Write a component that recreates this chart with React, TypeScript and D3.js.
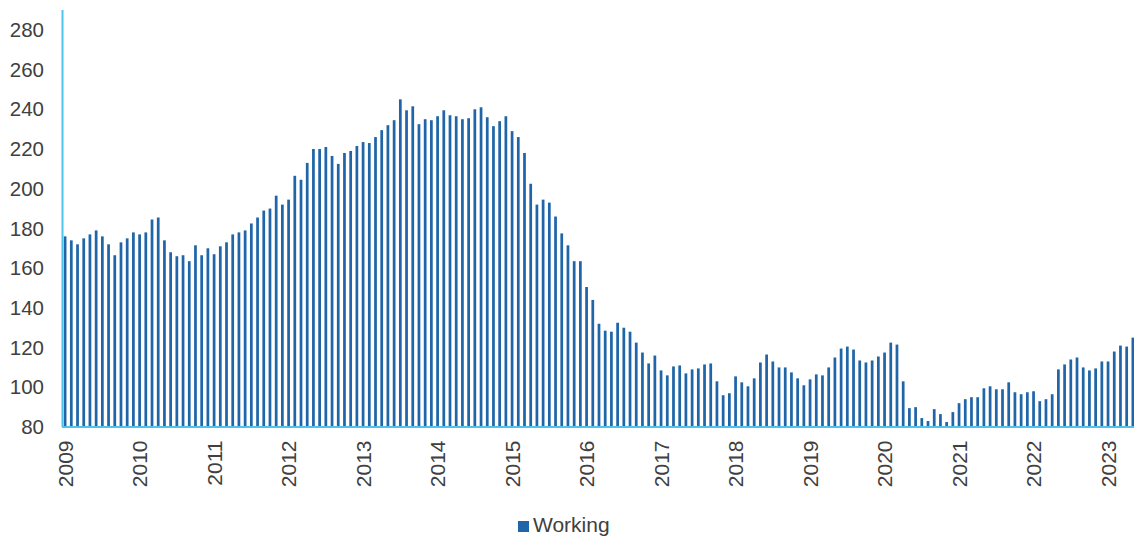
import React from 'react';
import * as d3 from 'd3';

// monthly values, Jan 2009 .. May 2023
const y2009 = [176, 174, 172, 175, 177, 179, 176, 172, 166.5, 173, 175, 178];
const y2010 = [177, 178, 184.5, 185.5, 174, 168, 166, 166.5, 163.5, 171.5, 166.5, 170];
const y2011 = [167, 171, 173, 177, 178, 179, 182.5, 185.5, 189, 190, 196.5, 192];
const y2012 = [194.5, 206.5, 204.5, 213, 220, 220, 221, 216.5, 212.5, 218, 219, 221.5];
const y2013 = [223.5, 223, 226, 229.5, 232, 234.5, 245, 239.5, 241.5, 232.5, 235, 234.5];
const y2014 = [236.5, 239.5, 237, 236.5, 235, 235.5, 240, 241, 236, 231.5, 234, 236.5];
const y2015 = [229, 226, 218, 202.5, 192, 194.5, 193, 186, 177.5, 171.5, 163.5, 163.5];
const y2016 = [150.5, 144, 132, 128.5, 128, 132.5, 130, 128, 122.5, 117.5, 112, 116];
const y2017 = [108.5, 106, 110.5, 111, 107, 109, 109.5, 111.5, 112, 103, 96, 97];
const y2018 = [105.5, 102.5, 100.5, 104.5, 112.5, 116.5, 113, 110, 110, 107.5, 104.5, 101];
const y2019 = [104, 106.5, 106, 110, 115, 119.5, 120.5, 119, 113.5, 112.5, 113.5, 115.5];
const y2020 = [117.5, 122.5, 121.5, 103, 89.5, 90, 84.5, 83, 89, 86.5, 82.5, 87.5];
const y2021 = [92, 94, 95, 95, 99.5, 100.5, 99, 99, 102.5, 97.5, 96.5, 97.5];
const y2022 = [98, 93, 94, 96.5, 109, 111.5, 114, 115, 110, 108.5, 109.5, 113];
const y2023 = [113, 118, 121, 120.5, 125];

const years = ['2009', '2010', '2011', '2012', '2013', '2014', '2015', '2016',
  '2017', '2018', '2019', '2020', '2021', '2022', '2023'];
const yTicks = [80, 100, 120, 140, 160, 180, 200, 220, 240, 260, 280];
const seriesName = 'Working';

const working = [
  ...y2009, ...y2010, ...y2011, ...y2012, ...y2013, ...y2014, ...y2015, ...y2016,
  ...y2017, ...y2018, ...y2019, ...y2020, ...y2021, ...y2022, ...y2023,
];
// category keys "2009-01" etc.
const months = working.map((_, i) => `${years[Math.floor(i / 12)]}-${String((i % 12) + 1).padStart(2, '0')}`);

const W = 1134;
const H = 537;
const left = 62;
const step = 6.208;
const bottom = 427;
const top = 10;

const barColor = '#1f65a8';
const axisColor = '#4fc3ee';
const textColor = '#404040';

const App = () => {
  const x = d3
    .scaleBand<string>()
    .domain(months)
    .range([left, left + step * months.length])
    .paddingInner(0.56)
    .paddingOuter(0.28);

  const y = d3.scaleLinear().domain([80, 290]).range([bottom, top]);

  const xCenter = (k: string) => (x(k) ?? 0) + x.bandwidth() / 2;

  return (
    <svg
      width={W}
      height={H}
      style={{ position: 'absolute', left: 0, top: 0 }}
      fontFamily="'Liberation Sans', Arial, sans-serif"
    >
      {/* bars */}
      <g>
        {working.map((v, i) => (
          <rect
            key={months[i]}
            x={x(months[i])}
            y={y(v)}
            width={x.bandwidth()}
            height={y(80) - y(v)}
            fill={barColor}
          />
        ))}
      </g>

      {/* axes */}
      <line x1={left + 0.5} x2={left + 0.5} y1={top} y2={bottom} stroke={axisColor} strokeWidth={2} />
      <line x1={left} x2={W} y1={bottom} y2={bottom} stroke={axisColor} strokeWidth={2} />

      {/* y tick labels */}
      <g fill={textColor} fontSize={20.5} textAnchor="end">
        {yTicks.map(t => (
          <text key={t} x={44} y={y(t)} dy="0.35em">
            {t}
          </text>
        ))}
      </g>

      {/* x tick labels, one per January */}
      <g fill={textColor} fontSize={21} textAnchor="end">
        {years.map(yr => {
          const cx = xCenter(`${yr}-01`);
          return (
            <text key={yr} transform={`translate(${cx + 0.5}, 440.5) rotate(-90)`} dy="0.35em">
              {yr}
            </text>
          );
        })}
      </g>

      {/* legend */}
      <g transform="translate(518, 521)">
        <rect x={0} y={0} width={11} height={11} fill={barColor} />
        <text x={15} y={11} fontSize={21} fill={textColor}>
          {seriesName}
        </text>
      </g>
    </svg>
  );
};

export default App;
